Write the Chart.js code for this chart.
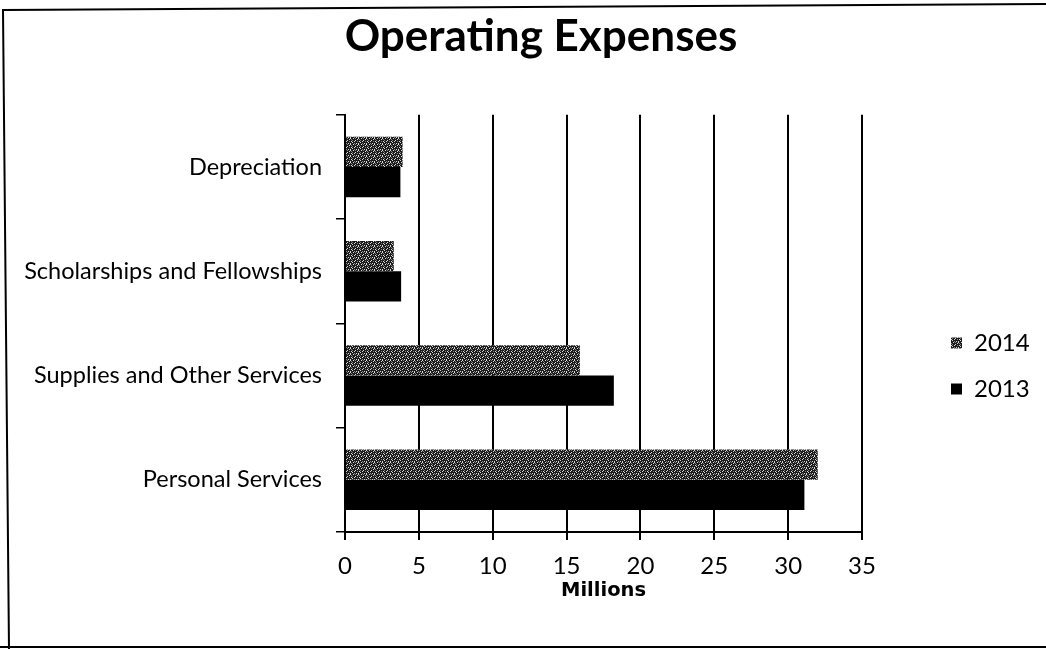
<!DOCTYPE html>
<html>
<head>
<meta charset="utf-8">
<title>Operating Expenses</title>
<script src="https://cdn.jsdelivr.net/npm/chart.js@4.4.1/dist/chart.umd.min.js"></script>
<style>
  html, body { margin: 0; padding: 0; background: #fff; }
  canvas { display: block; }
</style>
</head>
<body>
<canvas id="chart" width="1046" height="649"></canvas>
<script>
// Expense categories, listed top to bottom
const categories = [
  'Depreciation',
  'Scholarships and Fellowships',
  'Supplies and Other Services',
  'Personal Services'
];

// Amounts in millions of dollars
const expenses2014 = [3.9, 3.3, 15.9, 32.0];
const expenses2013 = [3.75, 3.8, 18.2, 31.1];

const seriesNames = ['2014', '2013'];

// Value axis: 0 to 35 million, every 5
const axisMin = 0;
const axisMax = 35;
const axisStep = 5;

// Dark speckled fill used for the 2014 bars
function speckleFill() {
  const tile = document.createElement('canvas');
  tile.width = 8;
  tile.height = 6;
  const g = tile.getContext('2d');
  g.fillStyle = '#1b1b1b';
  g.fillRect(0, 0, 8, 6);
  const light = [[1, 0], [5, 1], [3, 2], [7, 3], [0, 4], [4, 5], [6, 5], [2, 3], [6, 0]];
  const mid = [[3, 0], [0, 2], [5, 3], [2, 5], [7, 1]];
  g.fillStyle = '#d8d8d8';
  light.forEach(([x, y]) => g.fillRect(x, y, 1, 1));
  g.fillStyle = '#808080';
  mid.forEach(([x, y]) => g.fillRect(x, y, 1, 1));
  return g.createPattern(tile, 'repeat');
}

const categoryFont = { family: 'Lato', size: 23.5 };
const tickFont = { family: 'Lato', size: 24 };
const legendFont = { family: 'Lato', size: 24 };

// Sizes the side boxes and places the title and legend
const placement = {
  id: 'placement',
  beforeLayout(chart) {
    const lg = chart.legend;
    if (lg && !lg._widthFixed) {
      const baseFit = Object.getPrototypeOf(lg).fit;
      lg.fit = function () {
        baseFit.call(this);
        this.width = 184;
      };
      lg._widthFixed = true;
    }
  },
  afterLayout(chart) {
    const lg = chart.legend;
    lg.left = 929;
    lg.right = 1046;
    lg.top = 309;
    lg.bottom = 649;
    const tb = chart.titleBlock;
    if (tb) {
      tb.left = 36;
      tb.right = 1046;
      tb.width = tb.right - tb.left;
    }
  }
};

// Outer frame around the chart
const frame = {
  id: 'frame',
  beforeDraw(chart) {
    const ctx = chart.ctx;
    ctx.save();
    ctx.fillStyle = '#fff';
    ctx.fillRect(0, 0, chart.width, chart.height);
    ctx.restore();
  },
  afterDraw(chart) {
    const ctx = chart.ctx;
    ctx.save();
    ctx.strokeStyle = '#000';
    ctx.lineWidth = 2;
    ctx.beginPath();
    ctx.moveTo(1046, 4);
    ctx.lineTo(3, 10);
    ctx.lineTo(9, 649);
    ctx.moveTo(0, 647);
    ctx.lineTo(1046, 647);
    ctx.stroke();
    ctx.restore();
  }
};

new Chart(document.getElementById('chart'), {
  type: 'bar',
  data: {
    labels: categories,
    datasets: [
      {
        label: seriesNames[0],
        data: expenses2014,
        backgroundColor: speckleFill(),
        borderWidth: 0,
        categoryPercentage: 0.58,
        barPercentage: 1.0
      },
      {
        label: seriesNames[1],
        data: expenses2013,
        backgroundColor: '#000',
        borderWidth: 0,
        categoryPercentage: 0.58,
        barPercentage: 1.0
      }
    ]
  },
  options: {
    indexAxis: 'y',
    responsive: false,
    animation: false,
    devicePixelRatio: 1,
    layout: { padding: 0 },
    scales: {
      x: {
        min: axisMin,
        max: axisMax,
        ticks: {
          stepSize: axisStep,
          color: '#000',
          font: tickFont,
          padding: 12
        },
        grid: {
          color: '#000',
          lineWidth: 2,
          tickLength: 8,
          drawTicks: true
        },
        border: { color: '#000', width: 2 },
        title: {
          display: true,
          text: 'Millions',
          color: '#000',
          font: { family: 'DejaVu Sans', weight: 'bold', size: 19.5 },
          padding: { top: 0, bottom: 46 }
        },
        afterFit(scale) { scale.height = 117; }
      },
      y: {
        ticks: {
          color: '#000',
          font: categoryFont,
          padding: 14
        },
        grid: {
          offset: true,
          drawOnChartArea: false,
          drawTicks: true,
          tickLength: 9,
          color: '#000',
          lineWidth: 1.5
        },
        border: { color: '#000', width: 2 },
        afterFit(scale) { scale.width = 345; }
      }
    },
    plugins: {
      title: {
        display: true,
        text: 'Operating Expenses',
        color: '#000',
        font: { family: 'Lato', weight: 'bold', size: 44 },
        padding: { top: 10, bottom: 52 }
      },
      legend: {
        position: 'right',
        align: 'start',
        labels: {
          boxWidth: 11,
          boxHeight: 11,
          padding: 22,
          color: '#000',
          font: legendFont
        }
      },
      tooltip: { enabled: false }
    }
  },
  plugins: [placement, frame]
});
</script>
</body>
</html>
